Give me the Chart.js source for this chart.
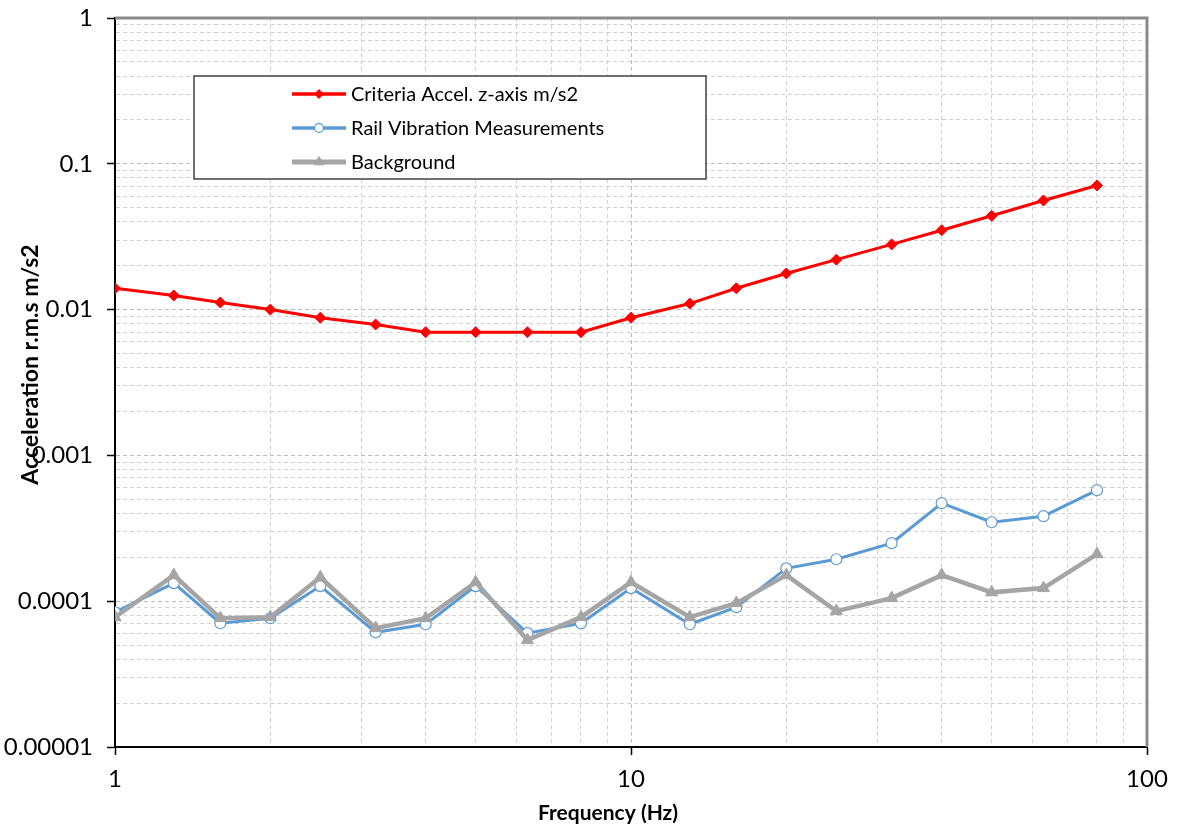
<!DOCTYPE html>
<html>
<head>
<meta charset="utf-8">
<script src="https://cdn.jsdelivr.net/npm/chart.js@4.4.1/dist/chart.umd.min.js"></script>
<style>
  html, body { margin: 0; padding: 0; background: #fff; }
  #wrap { width: 1177px; height: 830px; }
</style>
</head>
<body>
<div id="wrap"><canvas id="vibChart" width="1177" height="830"></canvas></div>
<script>
// 1/3 octave band centres (Hz), as plotted
const freqs = [1, 1.3, 1.6, 2, 2.5, 3.2, 4, 5, 6.3, 8, 10, 13, 16, 20, 25, 32, 40, 50, 63, 80];

const criteria = [0.014, 0.0125, 0.0112, 0.01, 0.0088, 0.0079, 0.007, 0.007, 0.007, 0.007,
  0.0088, 0.011, 0.014, 0.0177, 0.022, 0.028, 0.035, 0.044, 0.056, 0.071];

const railMeas = [0.000084, 0.000133, 0.0000706, 0.0000764, 0.000127, 0.0000612, 0.0000695, 0.000127, 0.0000604, 0.0000706,
  0.000123, 0.0000695, 0.000091, 0.000168, 0.000194, 0.00025, 0.00047, 0.000348, 0.000383, 0.000577];

const background = [0.0000777, 0.000151, 0.0000765, 0.0000777, 0.000146, 0.0000653, 0.0000764, 0.000135, 0.0000541, 0.0000777,
  0.000135, 0.0000777, 0.000097, 0.000151, 0.0000855, 0.000105, 0.000151, 0.000115, 0.000123, 0.00021];

const seriesNames = ["Criteria Accel. z-axis m/s2", "Rail Vibration Measurements", "Background"];
const xRange = [1, 100];
const yRange = [0.00001, 1];
const xTitle = "Frequency (Hz)";
const yTitle = "Acceleration r.m.s m/s2";

const FONT = "Lato, 'Liberation Sans', sans-serif";

function toPoints(ys) {
  return freqs.map((f, i) => ({ x: f, y: ys[i] }));
}

function isDecade(v) {
  const l = Math.log10(v);
  return Math.abs(l - Math.round(l)) < 1e-9;
}

// 1..9 per decade, no 1.5 steps
function logTicks(min, max) {
  const out = [];
  for (let e = Math.floor(Math.log10(min)); e <= Math.ceil(Math.log10(max)); e++) {
    for (let s = 1; s <= 9; s++) {
      const v = Number((s * Math.pow(10, e)).toPrecision(2));
      if (v >= min * 0.999 && v <= max * 1.001) out.push({ value: v, major: s === 1 });
    }
  }
  return out;
}

function decadeLabel(v) {
  return isDecade(v) ? String(Number(v.toPrecision(1))) : "";
}

const gridColor = ctx => (ctx.tick && ctx.tick.major ? "#bdbdbd" : "#d2d2d2");
const tickColor = ctx => (ctx.tick && ctx.tick.major ? "#000" : "rgba(0,0,0,0)");

// frame, axis titles and the boxed legend inside the plot
const decorPlugin = {
  id: "decor",
  beforeDatasetsDraw(chart) {
    const { ctx, chartArea: a } = chart;
    ctx.save();
    ctx.strokeStyle = "#8c8c8c";
    ctx.lineWidth = 3;
    ctx.beginPath();
    ctx.moveTo(a.left, a.top);
    ctx.lineTo(a.right, a.top);
    ctx.lineTo(a.right, a.bottom);
    ctx.stroke();
    ctx.restore();
  },
  afterDraw(chart) {
    const { ctx, chartArea: a } = chart;
    ctx.save();

    // axis titles
    ctx.fillStyle = "#000";
    ctx.textAlign = "center";
    ctx.textBaseline = "middle";
    ctx.font = "bold 21px " + FONT;
    ctx.fillText(xTitle, a.left + (a.right - a.left) / 2 - 23, 813);
    ctx.save();
    ctx.translate(31, a.top + (a.bottom - a.top) / 2 - 18);
    ctx.rotate(-Math.PI / 2);
    ctx.font = "bold 23px " + FONT;
    ctx.fillText(yTitle, 0, 0);
    ctx.restore();

    // legend box
    const bx = a.left + 79, by = a.top + 58, bw = 512, bh = 103;
    ctx.fillStyle = "#fff";
    ctx.fillRect(bx, by, bw, bh);
    ctx.strokeStyle = "#404040";
    ctx.lineWidth = 1.5;
    ctx.strokeRect(bx, by, bw, bh);

    ctx.font = "20px " + FONT;
    ctx.textAlign = "left";
    const ordered = seriesNames.map(n => chart.data.datasets.find(ds => ds.label === n));
    ordered.forEach((ds, i) => {
      const y = by + 18 + i * 34;
      const x1 = bx + 98, x2 = bx + 152;
      ctx.strokeStyle = ds.borderColor;
      ctx.lineWidth = ds.borderWidth + 0.5;
      ctx.beginPath();
      ctx.moveTo(x1, y);
      ctx.lineTo(x2, y);
      ctx.stroke();
      ctx.fillStyle = ds.pointBackgroundColor;
      ctx.strokeStyle = ds.pointBorderColor;
      ctx.lineWidth = ds.pointBorderWidth;
      Chart.helpers.drawPoint(ctx, {
        pointStyle: ds.pointStyle,
        radius: ds.pointRadius * 0.8,
        borderWidth: ds.pointBorderWidth,
        rotation: 0
      }, (x1 + x2) / 2, y);
      ctx.fillStyle = "#000";
      ctx.fillText(ds.label, x2 + 5, y + 1);
    });
    ctx.restore();
  }
};

const chart = new Chart(document.getElementById("vibChart"), {
  type: "line",
  data: {
    datasets: [
      {
        label: seriesNames[0],
        data: toPoints(criteria),
        borderColor: "#ff0000",
        backgroundColor: "#ff0000",
        borderWidth: 3,
        pointStyle: "rectRot",
        pointRadius: 5.5,
        pointBackgroundColor: "#ff0000",
        pointBorderColor: "#ff0000",
        pointBorderWidth: 1,
        order: 0
      },
      {
        label: seriesNames[1],
        data: toPoints(railMeas),
        borderColor: "#5b9bd5",
        backgroundColor: "#5b9bd5",
        borderWidth: 3,
        pointStyle: "circle",
        pointRadius: 5.5,
        pointBackgroundColor: "#ffffff",
        pointBorderColor: "#5b9bd5",
        pointBorderWidth: 1.2,
        order: 2
      },
      {
        label: seriesNames[2],
        data: toPoints(background),
        borderColor: "#a5a5a5",
        backgroundColor: "#a5a5a5",
        borderWidth: 4.5,
        pointStyle: "triangle",
        pointRadius: 7,
        pointBackgroundColor: "#a5a5a5",
        pointBorderColor: "#a5a5a5",
        pointBorderWidth: 1,
        order: 1
      }
    ]
  },
  options: {
    responsive: false,
    animation: false,
    layout: { padding: { top: 18, right: 30, left: 0, bottom: 0 } },
    plugins: {
      legend: { display: false },
      tooltip: { enabled: false }
    },
    scales: {
      x: {
        type: "logarithmic",
        min: xRange[0],
        max: xRange[1],
        afterBuildTicks: s => { s.ticks = logTicks(xRange[0], xRange[1]); },
        afterFit: s => { s.height = 83; s.paddingLeft = 0; s.paddingRight = 0; },
        ticks: {
          callback: decadeLabel,
          autoSkip: false,
          maxRotation: 0,
          padding: 10,
          color: "#000",
          font: { family: FONT, size: 24 }
        },
        grid: {
          color: gridColor,
          lineWidth: 1,
          tickLength: 8,
          tickColor: tickColor,
          tickWidth: 1.5,
          tickBorderDash: []
        },
        border: { display: true, color: "#000", width: 2, dash: [4, 3] }
      },
      y: {
        type: "logarithmic",
        min: yRange[0],
        max: yRange[1],
        afterBuildTicks: s => { s.ticks = logTicks(yRange[0], yRange[1]); },
        afterFit: s => { s.width = 115; s.paddingTop = 0; s.paddingBottom = 0; },
        ticks: {
          callback: decadeLabel,
          autoSkip: false,
          padding: 14,
          color: "#000",
          font: { family: FONT, size: 24 }
        },
        grid: {
          color: gridColor,
          lineWidth: 1,
          tickLength: 8,
          tickColor: tickColor,
          tickWidth: 1.5,
          tickBorderDash: []
        },
        border: { display: true, color: "#000", width: 2, dash: [4, 3] }
      }
    }
  },
  plugins: [decorPlugin]
});
</script>
</body>
</html>
